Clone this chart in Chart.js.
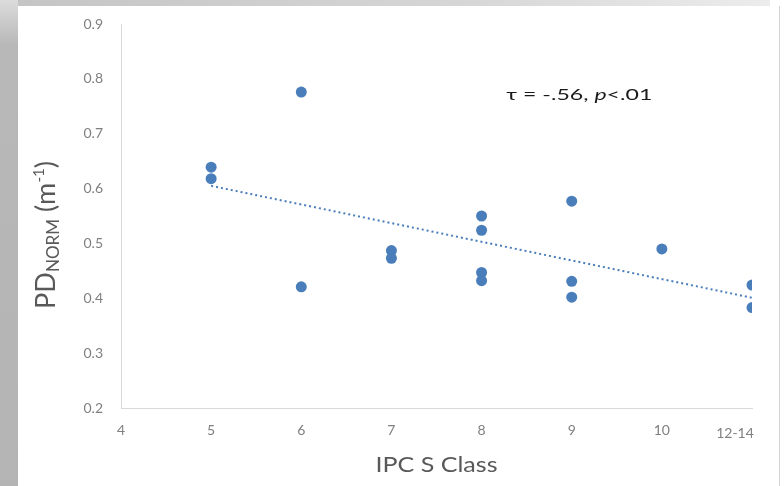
<!DOCTYPE html>
<html lang="en">
<head>
  <meta charset="UTF-8">
  <title>PD norm vs IPC S Class</title>
  <script src="https://cdn.jsdelivr.net/npm/chart.js"></script>
  <style>
    html, body { margin: 0; padding: 0; }
    body {
      width: 784px; height: 486px; position: relative; overflow: hidden;
      background: #ffffff;
    }
    .top-strip {
      position: absolute; left: 0; top: 0; width: 770px; height: 6px;
      background: linear-gradient(to right, #c4c4c4, #d6d6d6 60%, #ececec);
    }
    .left-strip {
      position: absolute; left: 0; top: 0; width: 18px; height: 486px;
      background: linear-gradient(to bottom, #dcdcdc 0px, #b8b8b8 45px, #b4b4b4 100%);
    }
    .frame {
      position: absolute; left: 18px; top: 6px; width: 761px; height: 480px;
      background: #ffffff; border-right: 1px solid #d4d4d4;
    }
  </style>
</head>
<body>
<div class="top-strip"></div>
<div class="left-strip"></div>
<div class="frame">
  <canvas id="pdChart"></canvas>
</div>

<script>
  // IPC S class (11 stands for the 12-14 group)
  const ipcClass = [5, 5, 6, 6, 7, 7, 8, 8, 8, 8, 9, 9, 9, 10, 11, 11];
  const pdNorm = [0.639, 0.618, 0.776, 0.421, 0.487, 0.473, 0.550, 0.524, 0.447, 0.432, 0.577, 0.431, 0.402, 0.490, 0.424, 0.383];

  // dotted trend line end points
  const trendX = [5, 11];
  const trendY = [0.605, 0.401];

  const xTickLabels = { 4: "4", 5: "5", 6: "6", 7: "7", 8: "8", 9: "9", 10: "10", 11: "12-14" };
  const yTicks = [0.2, 0.3, 0.4, 0.5, 0.6, 0.7, 0.8, 0.9];

  const blue = "#4a7ebb";
  const tickGray = "#808080";
  const titleGray = "#595959";
  const fontFam = "Lato, 'Open Sans', sans-serif";

  const points = ipcClass.map((c, i) => ({ x: c, y: pdNorm[i] }));
  const trend = trendX.map((c, i) => ({ x: c, y: trendY[i] }));

  // draws text pieces in a row, centred and stretched to a given width
  function drawRow(ctx, parts, targetW) {
    let total = 0;
    parts.forEach(p => { ctx.font = p.font; p.w = ctx.measureText(p.t).width; total += p.w; });
    ctx.scale(targetW / total, 1);
    let px = -total / 2;
    parts.forEach(p => {
      ctx.font = p.font;
      ctx.fillText(p.t, px, p.dy || 0);
      px += p.w;
    });
  }

  const extrasPlugin = {
    id: "extras",
    afterDraw(chart) {
      const ctx = chart.ctx;
      const xs = chart.scales.x;
      const ys = chart.scales.y;

      // last x label, sits a bit left of its tick
      ctx.save();
      ctx.fillStyle = tickGray;
      ctx.font = "14px " + fontFam;
      ctx.textAlign = "center";
      ctx.textBaseline = "middle";
      ctx.fillText(xTickLabels[11], xs.getPixelForValue(11) - 17, xs.top + 25);
      ctx.restore();

      // x axis title
      ctx.save();
      ctx.fillStyle = titleGray;
      ctx.textBaseline = "middle";
      ctx.translate((xs.left + xs.right) / 2, xs.top + 57);
      drawRow(ctx, [{ t: "IPC S Class", font: "21px " + fontFam }], 122);
      ctx.restore();

      // y axis title, rotated, with subscript and superscript
      ctx.save();
      ctx.fillStyle = titleGray;
      ctx.textBaseline = "alphabetic";
      ctx.translate(37, (ys.top + ys.bottom) / 2 + 19);
      ctx.rotate(-Math.PI / 2);
      drawRow(ctx, [
        { t: "PD", font: "27px " + fontFam },
        { t: "NORM", font: "17px " + fontFam, dy: 4 },
        { t: " (m", font: "27px " + fontFam },
        { t: "-1", font: "15px " + fontFam, dy: -11 },
        { t: ")", font: "27px " + fontFam }
      ], 148);
      ctx.restore();

      // annotation
      ctx.save();
      ctx.fillStyle = "#1a1a1a";
      ctx.textBaseline = "middle";
      ctx.translate(xs.getPixelForValue(8.23) + 77, ys.getPixelForValue(0.77));
      drawRow(ctx, [
        { t: "\u03C4 = -.56, ", font: "16px " + fontFam },
        { t: "p", font: "italic 16px " + fontFam },
        { t: "<.01", font: "16px " + fontFam }
      ], 146);
      ctx.restore();
    }
  };

  document.addEventListener("DOMContentLoaded", function () {
    const ctx = document.getElementById("pdChart").getContext("2d");

    new Chart(ctx, {
      type: "scatter",
      data: {
        datasets: [
          {
            label: "PD norm",
            data: points,
            backgroundColor: blue,
            borderColor: blue,
            pointRadius: 5.5,
            pointHoverRadius: 5.5,
            borderWidth: 0
          },
          {
            type: "line",
            label: "Trend",
            data: trend,
            borderColor: blue,
            borderWidth: 2,
            borderDash: [2, 3],
            pointRadius: 0,
            fill: false
          }
        ]
      },
      options: {
        responsive: true,
        maintainAspectRatio: false,
        animation: false,
        layout: { padding: { top: 18, right: 27, left: 0, bottom: 0 } },
        plugins: {
          legend: { display: false },
          tooltip: { enabled: false }
        },
        scales: {
          x: {
            type: "linear",
            min: 4,
            max: 11,
            afterFit: s => { s.height = 78; },
            grid: { display: false, drawTicks: false },
            border: { display: true, color: "#d9d9d9", width: 1 },
            ticks: {
              stepSize: 1,
              padding: 14,
              color: tickGray,
              font: { family: fontFam, size: 14 },
              callback: v => (v === 11 ? "" : xTickLabels[v])
            }
          },
          y: {
            min: 0.2,
            max: 0.9,
            afterFit: s => { s.width = 103; },
            afterBuildTicks: s => { s.ticks = yTicks.map(v => ({ value: v })); },
            // tick marks are not drawn; their length just spaces the labels
            grid: { display: false, drawTicks: true, tickLength: 18 },
            border: { display: true, color: "#d9d9d9", width: 1 },
            ticks: {
              padding: 0,
              color: tickGray,
              font: { family: fontFam, size: 14 },
              callback: v => v.toFixed(1)
            }
          }
        }
      },
      plugins: [extrasPlugin]
    });
  });
</script>
</body>
</html>
